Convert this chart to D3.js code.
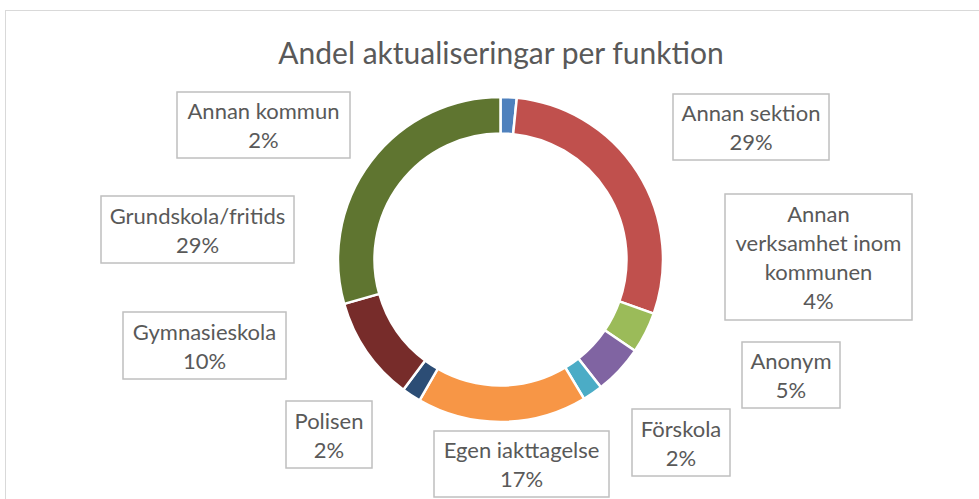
<!DOCTYPE html>
<html><head><meta charset="utf-8">
<script src="https://cdn.jsdelivr.net/npm/d3@7"></script>
<style>body{margin:0;background:#fff;} svg{display:block;}</style>
</head><body>
<svg id="c" width="979" height="499"></svg>
<script>
const categories = ["Annan kommun","Annan sektion","Annan verksamhet inom kommunen","Anonym","Förskola","Egen iakttagelse","Polisen","Gymnasieskola","Grundskola/fritids"];
const values = [1.6, 28.8, 4.1, 4.9, 2.0, 16.9, 1.9, 10.4, 29.4];
const colors = ["#4F81BD","#C0504D","#9BBB59","#8064A2","#4BACC6","#F79646","#2C4D75","#772C2A","#5F7530"];
const labelLines = [["Annan kommun"],["Annan sektion"],["Annan","verksamhet inom","kommunen"],["Anonym"],["Förskola"],["Egen iakttagelse"],["Polisen"],["Gymnasieskola"],["Grundskola/fritids"]];
const title = "Andel aktualiseringar per funktion";

// layout of label boxes [x0,y0,x1,y1]
const boxes = [[177,92,350,158],[673,94,829,160],[725,194,912,320],[742,342,840,408],[632,409,730,476],[434,431,609,497],[286,401,372,468],[123,312,286,379],[101,196,294,263]];

const svg = d3.select("#c");
const font = "Lato, 'Open Sans', sans-serif";
svg.append("rect").attr("x",5.5).attr("y",10.5).attr("width",990).attr("height",500)
  .attr("fill","#fff").attr("stroke","#D9D9D9").attr("stroke-width",1);

svg.append("text").attr("x",501).attr("y",52).attr("text-anchor","middle")
  .attr("dominant-baseline","central").attr("font-family",font).attr("font-size",30)
  .attr("fill","#595959").text(title);

const cx = 500.5, cy = 259.5;
const pie = d3.pie().sort(null).value(d=>d);
const arc = d3.arc().innerRadius(126).outerRadius(162.5);
const total = d3.sum(values);
const g = svg.append("g").attr("transform",`translate(${cx},${cy})`);
g.selectAll("path").data(pie(values)).join("path")
  .attr("d",arc).attr("fill",(d,i)=>colors[i]).attr("stroke","#fff").attr("stroke-width",2.5)
  .attr("stroke-linejoin","round");

const lh = 29;
categories.forEach((c,i)=>{
  const b = boxes[i];
  svg.append("rect").attr("x",b[0]).attr("y",b[1]).attr("width",b[2]-b[0]).attr("height",b[3]-b[1])
    .attr("fill","#fff").attr("stroke","#BFBFBF").attr("stroke-width",1.5);
  const lines = labelLines[i].concat([Math.round(values[i]/total*100)+"%"]);
  const mx = (b[0]+b[2])/2, my = (b[1]+b[3])/2;
  lines.forEach((t,j)=>{
    svg.append("text").attr("x",mx).attr("y",my+(j-(lines.length-1)/2)*lh)
      .attr("text-anchor","middle").attr("dominant-baseline","central")
      .attr("font-family",font).attr("font-size",22).attr("fill","#595959").text(t);
  });
});
</script>
</body></html>
